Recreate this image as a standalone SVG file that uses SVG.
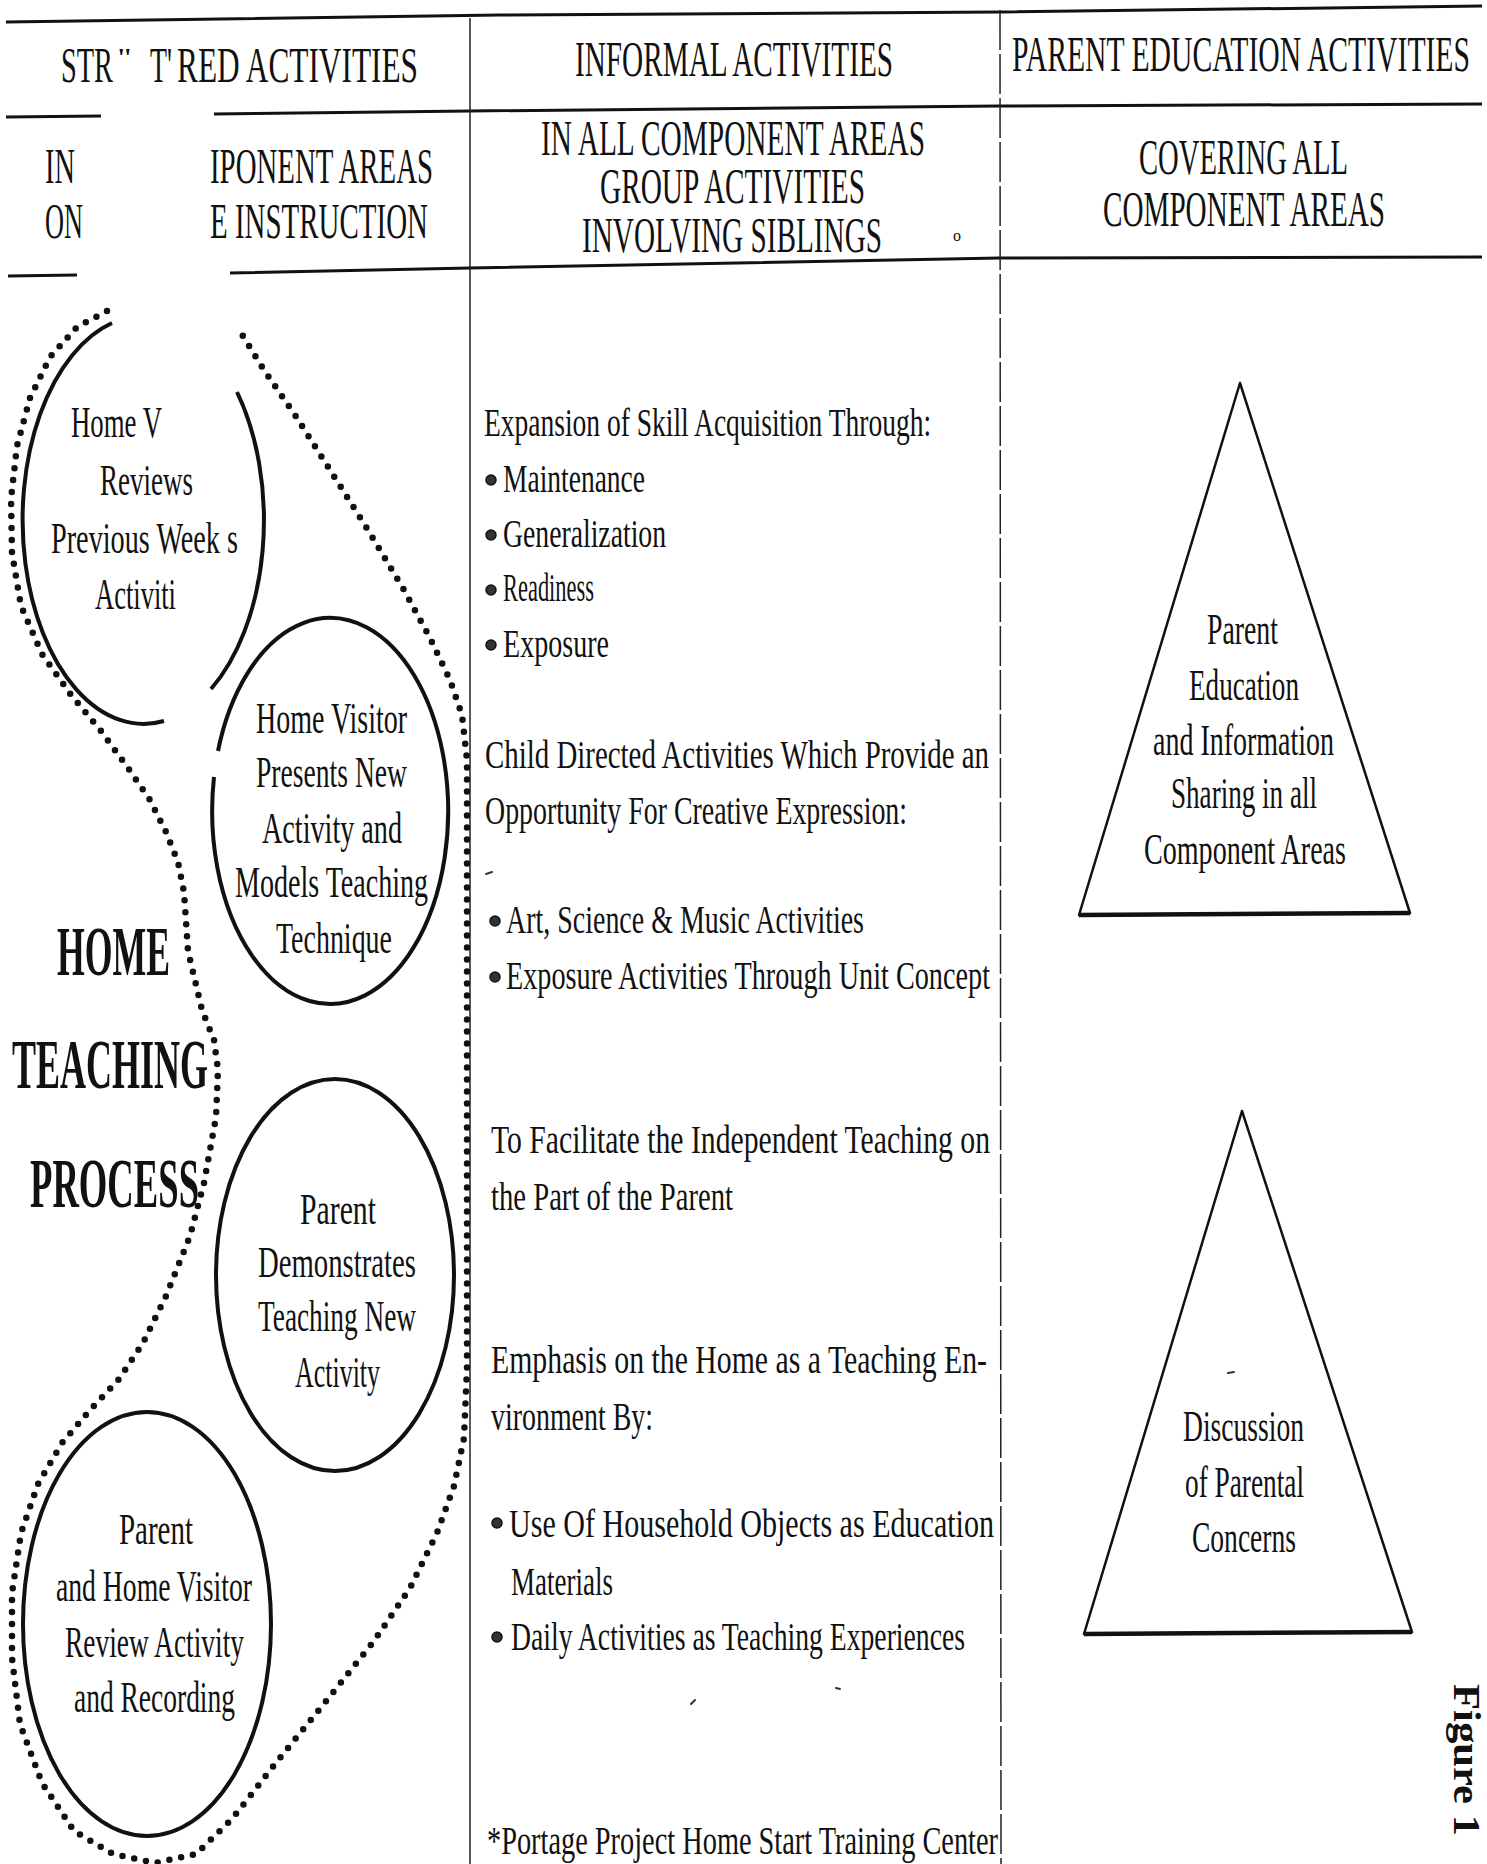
<svg xmlns="http://www.w3.org/2000/svg" width="1487" height="1864" viewBox="0 0 1487 1864">
<style>
text { font-family: "Liberation Serif", "Times New Roman", serif; fill: #111; }
.hdr { font-size: 50px; }
.frag { font-size: 26px; }
.tiny { font-size: 16px; }
.ct { font-size: 44px; }
.bt { font-size: 40px; }
.big { font-size: 70px; font-weight: bold; }
.fig { font-size: 38px; font-weight: bold; }
.ring { fill: none; stroke: #111; stroke-width: 4; }
.tri { fill: none; stroke: #111; stroke-width: 2.5; stroke-linejoin: round; }
.base { stroke: #111; stroke-width: 4.5; }
.dots { fill: none; stroke: #111; stroke-width: 6.5; stroke-dasharray: 0 12; stroke-linecap: round; stroke-linejoin: round; }
.rule { fill: none; stroke: #111; stroke-width: 3; }
.div { stroke: #222; stroke-width: 1.5; }
.bul { fill: #333; stroke: #111; stroke-width: 1.5; }
.speck { stroke: #333; stroke-width: 2; stroke-linecap: round; }
</style>
<rect width="1487" height="1864" fill="#fff"/>

<g id="table-rules">
  <polyline class="rule" points="6,22 500,15 1000,12 1482,6"/>
  <polyline class="rule" points="6,117 101,116"/>
  <polyline class="rule" points="214,114 470,111 1000,106 1482,104"/>
  <polyline class="rule" points="8,276 77,275"/>
  <polyline class="rule" points="230,273 470,268 1000,258 1482,257"/>
  <line class="div" x1="470" y1="18" x2="470" y2="1864"/>
  <line class="div" x1="1000" y1="10" x2="1001" y2="1864" stroke-dasharray="40 4"/>
</g>

<g id="header-structured">
  <text class="hdr" transform="translate(61 82) scale(0.6 1)" textLength="86.7" lengthAdjust="spacingAndGlyphs">STR</text>
  <text class="frag" transform="translate(118 66) scale(0.6 1)" textLength="21.7" lengthAdjust="spacingAndGlyphs">''</text>
  <text class="hdr" transform="translate(150 82) scale(0.6 1)" textLength="36.7" lengthAdjust="spacingAndGlyphs">T'</text>
  <text class="hdr" transform="translate(177 82) scale(0.6 1)" textLength="401.7" lengthAdjust="spacingAndGlyphs">RED ACTIVITIES</text>
  <text class="hdr" transform="translate(45 183) scale(0.6 1)" textLength="50" lengthAdjust="spacingAndGlyphs">IN</text>
  <text class="hdr" transform="translate(210 183) scale(0.6 1)" textLength="371.7" lengthAdjust="spacingAndGlyphs">IPONENT AREAS</text>
  <text class="hdr" transform="translate(45 238) scale(0.6 1)" textLength="63.3" lengthAdjust="spacingAndGlyphs">ON</text>
  <text class="hdr" transform="translate(210 238) scale(0.6 1)" textLength="363.3" lengthAdjust="spacingAndGlyphs">E INSTRUCTION</text>
</g>

<g id="header-informal">
  <text class="hdr" transform="translate(575 76) scale(0.6 1)" textLength="530" lengthAdjust="spacingAndGlyphs">INFORMAL ACTIVITIES</text>
  <text class="hdr" transform="translate(541 155) scale(0.6 1)" textLength="640" lengthAdjust="spacingAndGlyphs">IN ALL COMPONENT AREAS</text>
  <text class="hdr" transform="translate(600 203) scale(0.6 1)" textLength="441.7" lengthAdjust="spacingAndGlyphs">GROUP ACTIVITIES</text>
  <text class="hdr" transform="translate(582 252) scale(0.6 1)" textLength="500" lengthAdjust="spacingAndGlyphs">INVOLVING SIBLINGS</text>
  <text class="tiny" x="953" y="241">o</text>
</g>

<g id="header-parent">
  <text class="hdr" transform="translate(1012 71) scale(0.6 1)" textLength="763.3" lengthAdjust="spacingAndGlyphs">PARENT EDUCATION ACTIVITIES</text>
  <text class="hdr" transform="translate(1139 174) scale(0.6 1)" textLength="348.3" lengthAdjust="spacingAndGlyphs">COVERING ALL</text>
  <text class="hdr" transform="translate(1103 226) scale(0.6 1)" textLength="470" lengthAdjust="spacingAndGlyphs">COMPONENT AREAS</text>
</g>

<g id="connectors">
  <path class="dots" d="M107,311 L77,327 L50,357 L30,398 L17,446 L11,499 L12,553 L21,606 L42,654 L71,695 L101,731 L128,768 L150,800 L166,832 L178,862 L184,892 L188,951 L202,1010 L214,1040 L218,1070 L216,1117 L210,1150 L204,1183 L190,1236 L166,1296 L143,1343 L119,1379 L90,1410 L62,1443 L38,1484 L21,1533 L12,1593 L12,1658 L20,1724 L42,1783 L74,1831 L113,1854 L155,1863 L196,1854 L232,1819 L279,1759 L327,1700 L374,1641 L410,1588 L437,1533 L454,1486 L464,1438 L467,1367 L467,760 L462,715 L450,680 L430,638 L404,590 L368,530 L330,470 L295,415 L264,370 L241,333"/>
</g>

<g id="process-title">
  <text class="big" transform="translate(57 975) scale(0.55 1)" textLength="205.5" lengthAdjust="spacingAndGlyphs">HOME</text>
  <text class="big" transform="translate(12 1088) scale(0.55 1)" textLength="356.4" lengthAdjust="spacingAndGlyphs">TEACHING</text>
  <text class="big" transform="translate(30 1207) scale(0.55 1)" textLength="307.3" lengthAdjust="spacingAndGlyphs">PROCESS</text>
</g>

<g id="step-review-previous">
  <path class="ring" d="M164,721 A121,204 0 0 1 112,323"/>
  <path class="ring" d="M237,392 A121,204 0 0 1 211,689"/>
  <text class="ct" transform="translate(71 437) scale(0.6 1)" textLength="151.7" lengthAdjust="spacingAndGlyphs">Home V</text>
  <text class="ct" transform="translate(100 495) scale(0.6 1)" textLength="155" lengthAdjust="spacingAndGlyphs">Reviews</text>
  <text class="ct" transform="translate(51 553) scale(0.6 1)" textLength="311.7" lengthAdjust="spacingAndGlyphs">Previous Week s</text>
  <text class="ct" transform="translate(95 609) scale(0.6 1)" textLength="135" lengthAdjust="spacingAndGlyphs">Activiti</text>
</g>

<g id="step-present-new">
  <path class="ring" d="M218,751 A118,193 0 1 1 214,777"/>
  <text class="ct" transform="translate(256 733) scale(0.6 1)" textLength="251.7" lengthAdjust="spacingAndGlyphs">Home Visitor</text>
  <text class="ct" transform="translate(256 787) scale(0.6 1)" textLength="251.7" lengthAdjust="spacingAndGlyphs">Presents New</text>
  <text class="ct" transform="translate(262 843) scale(0.6 1)" textLength="233.3" lengthAdjust="spacingAndGlyphs">Activity and</text>
  <text class="ct" transform="translate(235 897) scale(0.6 1)" textLength="321.7" lengthAdjust="spacingAndGlyphs">Models Teaching</text>
  <text class="ct" transform="translate(276 953) scale(0.6 1)" textLength="193.3" lengthAdjust="spacingAndGlyphs">Technique</text>
</g>

<g id="step-parent-demonstrates">
  <ellipse class="ring" cx="335" cy="1275" rx="119" ry="196"/>
  <text class="ct" transform="translate(300 1224) scale(0.6 1)" textLength="126.7" lengthAdjust="spacingAndGlyphs">Parent</text>
  <text class="ct" transform="translate(258 1277) scale(0.6 1)" textLength="263.3" lengthAdjust="spacingAndGlyphs">Demonstrates</text>
  <text class="ct" transform="translate(258 1331) scale(0.6 1)" textLength="263.3" lengthAdjust="spacingAndGlyphs">Teaching New</text>
  <text class="ct" transform="translate(295 1387) scale(0.6 1)" textLength="141.7" lengthAdjust="spacingAndGlyphs">Activity</text>
</g>

<g id="step-review-recording">
  <ellipse class="ring" cx="147" cy="1624" rx="124" ry="212"/>
  <text class="ct" transform="translate(119 1544) scale(0.6 1)" textLength="123.3" lengthAdjust="spacingAndGlyphs">Parent</text>
  <text class="ct" transform="translate(56 1601) scale(0.6 1)" textLength="326.7" lengthAdjust="spacingAndGlyphs">and Home Visitor</text>
  <text class="ct" transform="translate(65 1657) scale(0.6 1)" textLength="298.3" lengthAdjust="spacingAndGlyphs">Review Activity</text>
  <text class="ct" transform="translate(74 1712) scale(0.6 1)" textLength="268.3" lengthAdjust="spacingAndGlyphs">and Recording</text>
</g>

<g id="informal-skill-expansion">
  <text class="bt" transform="translate(484 436) scale(0.7 1)" textLength="638.6" lengthAdjust="spacingAndGlyphs">Expansion of Skill Acquisition Through:</text>
  <circle class="bul" cx="491" cy="480" r="5"/>
  <text class="bt" transform="translate(503 492) scale(0.7 1)" textLength="202.9" lengthAdjust="spacingAndGlyphs">Maintenance</text>
  <circle class="bul" cx="491" cy="535" r="5"/>
  <text class="bt" transform="translate(503 547) scale(0.7 1)" textLength="232.9" lengthAdjust="spacingAndGlyphs">Generalization</text>
  <circle class="bul" cx="491" cy="590" r="5"/>
  <text class="bt" transform="translate(503 601) scale(0.7 1)" textLength="130" lengthAdjust="spacingAndGlyphs">Readiness</text>
  <circle class="bul" cx="491" cy="645" r="5"/>
  <text class="bt" transform="translate(503 657) scale(0.7 1)" textLength="151.4" lengthAdjust="spacingAndGlyphs">Exposure</text>
</g>

<g id="informal-child-directed">
  <text class="bt" transform="translate(485 768) scale(0.7 1)" textLength="720" lengthAdjust="spacingAndGlyphs">Child Directed Activities Which Provide an</text>
  <text class="bt" transform="translate(485 824) scale(0.7 1)" textLength="602.9" lengthAdjust="spacingAndGlyphs">Opportunity For Creative Expression:</text>
  <circle class="bul" cx="495" cy="921" r="5"/>
  <text class="bt" transform="translate(506 933) scale(0.7 1)" textLength="511.4" lengthAdjust="spacingAndGlyphs">Art, Science &amp; Music Activities</text>
  <circle class="bul" cx="495" cy="977" r="5"/>
  <text class="bt" transform="translate(506 989) scale(0.7 1)" textLength="691.4" lengthAdjust="spacingAndGlyphs">Exposure Activities Through Unit Concept</text>
</g>

<g id="informal-facilitate">
  <text class="bt" transform="translate(491 1153) scale(0.7 1)" textLength="712.9" lengthAdjust="spacingAndGlyphs">To Facilitate the Independent Teaching on</text>
  <text class="bt" transform="translate(491 1210) scale(0.7 1)" textLength="345.7" lengthAdjust="spacingAndGlyphs">the Part of the Parent</text>
</g>

<g id="informal-home-environment">
  <text class="bt" transform="translate(491 1373) scale(0.7 1)" textLength="708.6" lengthAdjust="spacingAndGlyphs">Emphasis on the Home as a Teaching En-</text>
  <text class="bt" transform="translate(491 1430) scale(0.7 1)" textLength="231.4" lengthAdjust="spacingAndGlyphs">vironment By:</text>
  <circle class="bul" cx="497" cy="1523" r="5"/>
  <text class="bt" transform="translate(509 1537) scale(0.7 1)" textLength="692.9" lengthAdjust="spacingAndGlyphs">Use Of Household Objects as Education</text>
  <text class="bt" transform="translate(511 1595) scale(0.7 1)" textLength="145.7" lengthAdjust="spacingAndGlyphs">Materials</text>
  <circle class="bul" cx="497" cy="1637" r="5"/>
  <text class="bt" transform="translate(511 1650) scale(0.7 1)" textLength="648.6" lengthAdjust="spacingAndGlyphs">Daily Activities as Teaching Experiences</text>
</g>

<g id="footnote">
  <text class="bt" transform="translate(487 1854) scale(0.7 1)" textLength="730" lengthAdjust="spacingAndGlyphs">*Portage Project Home Start Training Center</text>
</g>

<g id="parent-education-triangle">
  <polygon class="tri" points="1240,383 1410,913 1079,915"/>
  <line class="base" x1="1079" y1="915" x2="1410" y2="913"/>
  <text class="ct" transform="translate(1207 644) scale(0.6 1)" textLength="118.3" lengthAdjust="spacingAndGlyphs">Parent</text>
  <text class="ct" transform="translate(1189 700) scale(0.6 1)" textLength="183.3" lengthAdjust="spacingAndGlyphs">Education</text>
  <text class="ct" transform="translate(1153 755) scale(0.6 1)" textLength="301.7" lengthAdjust="spacingAndGlyphs">and Information</text>
  <text class="ct" transform="translate(1171 808) scale(0.6 1)" textLength="243.3" lengthAdjust="spacingAndGlyphs">Sharing in all</text>
  <text class="ct" transform="translate(1144 864) scale(0.6 1)" textLength="336.7" lengthAdjust="spacingAndGlyphs">Component Areas</text>
</g>

<g id="parental-concerns-triangle">
  <polygon class="tri" points="1242,1111 1412,1632 1084,1634"/>
  <line class="base" x1="1084" y1="1634" x2="1412" y2="1632"/>
  <text class="ct" transform="translate(1183 1441) scale(0.6 1)" textLength="201.7" lengthAdjust="spacingAndGlyphs">Discussion</text>
  <text class="ct" transform="translate(1185 1497) scale(0.6 1)" textLength="198.3" lengthAdjust="spacingAndGlyphs">of Parental</text>
  <text class="ct" transform="translate(1192 1552) scale(0.6 1)" textLength="173.3" lengthAdjust="spacingAndGlyphs">Concerns</text>
</g>

<g id="figure-label">
  <text class="fig" transform="translate(1454,1684) rotate(90)" textLength="152" lengthAdjust="spacingAndGlyphs">Figure 1</text>
</g>

<g id="specks">
  <line class="speck" x1="486" y1="874" x2="492" y2="872"/>
  <line class="speck" x1="691" y1="1704" x2="695" y2="1700"/>
  <line class="speck" x1="836" y1="1688" x2="840" y2="1689"/>
  <line class="speck" x1="1228" y1="1373" x2="1234" y2="1372"/>
</g>
</svg>
